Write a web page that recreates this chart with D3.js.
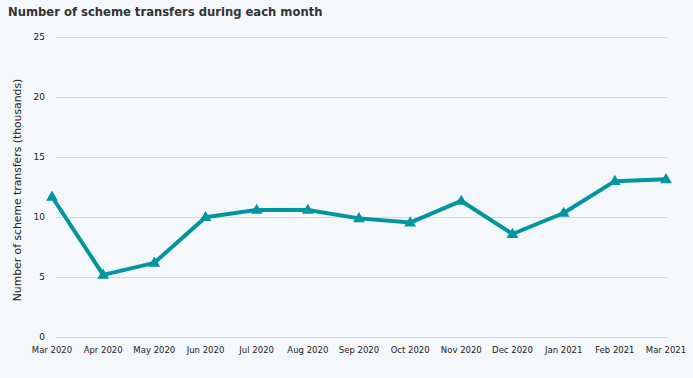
<!DOCTYPE html>
<html>
<head>
<meta charset="utf-8">
<script src="https://cdn.jsdelivr.net/npm/d3@7"></script>
<style>
  body { margin: 0; background: #f4f8fb; }
  svg { display: block; font-family: "DejaVu Sans", Verdana, sans-serif; }
</style>
</head>
<body>
<svg id="chart" width="693" height="378"></svg>
<script>
// données (milliers de transferts)
var months = ["Mar 2020", "Apr 2020", "May 2020", "Jun 2020", "Jul 2020", "Aug 2020", "Sep 2020",
              "Oct 2020", "Nov 2020", "Dec 2020", "Jan 2021", "Feb 2021", "Mar 2021"];
var transfers = [11.7, 5.2, 6.2, 10.0, 10.6, 10.6, 9.9, 9.55, 11.35, 8.6, 10.35, 13.0, 13.15];
var yTicks = [0, 5, 10, 15, 20, 25];

var width = 693, height = 378;
var margin = {top: 37, right: 27, bottom: 40, left: 52};

var svg = d3.select("#chart");

svg.append("rect")
    .attr("width", width)
    .attr("height", height)
    .attr("fill", "#f4f8fb");

// titre
svg.append("text")
    .attr("x", 8)
    .attr("y", 16)
    .attr("font-size", "11.6px")
    .attr("font-weight", "bold")
    .attr("fill", "#333")
    .text("Number of scheme transfers during each month");

var x = d3.scalePoint()
    .domain(months)
    .range([margin.left, width - margin.right]);

var y = d3.scaleLinear()
    .domain([0, 25])
    .range([height - margin.bottom - 0.7, margin.top]);

// lignes de grille
svg.append("g")
    .selectAll("line")
    .data(yTicks)
    .enter()
    .append("line")
    .attr("x1", 56)
    .attr("x2", 667)
    .attr("y1", function(d) { return Math.round(y(d)) + 0.5; })
    .attr("y2", function(d) { return Math.round(y(d)) + 0.5; })
    .attr("stroke", "#d6d9dd")
    .attr("stroke-width", 1);

// étiquettes de l'axe y
svg.append("g")
    .selectAll("text")
    .data(yTicks)
    .enter()
    .append("text")
    .attr("x", 45)
    .attr("y", function(d) { return y(d); })
    .attr("dy", "0.35em")
    .attr("text-anchor", "end")
    .attr("font-size", "9px")
    .attr("fill", "#222")
    .text(function(d) { return d; });

// étiquettes de l'axe x
svg.append("g")
    .selectAll("text")
    .data(months)
    .enter()
    .append("text")
    .attr("x", function(d) { return x(d); })
    .attr("y", 353)
    .attr("text-anchor", "middle")
    .attr("font-size", "8.5px")
    .attr("fill", "#222")
    .text(function(d) { return d; });

// titre de l'axe y
svg.append("text")
    .attr("transform", "translate(21," + 190 + ") rotate(-90)")
    .attr("text-anchor", "middle")
    .attr("font-size", "10.8px")
    .attr("fill", "#222")
    .text("Number of scheme transfers (thousands)");

// la ligne
var line = d3.line()
    .x(function(d, i) { return x(months[i]); })
    .y(function(d) { return y(d); });

svg.append("path")
    .datum(transfers)
    .attr("d", line)
    .attr("fill", "none")
    .attr("stroke", "#0095a0")
    .attr("stroke-width", 4)
    .attr("stroke-linejoin", "round");

// marqueurs triangulaires
var tri = d3.symbol().type(d3.symbolTriangle).size(60);
svg.append("g")
    .selectAll("path")
    .data(transfers)
    .enter()
    .append("path")
    .attr("d", tri)
    .attr("transform", function(d, i) { return "translate(" + x(months[i]) + "," + (y(d) + 0.5) + ")"; })
    .attr("fill", "#0095a0");
</script>
</body>
</html>
